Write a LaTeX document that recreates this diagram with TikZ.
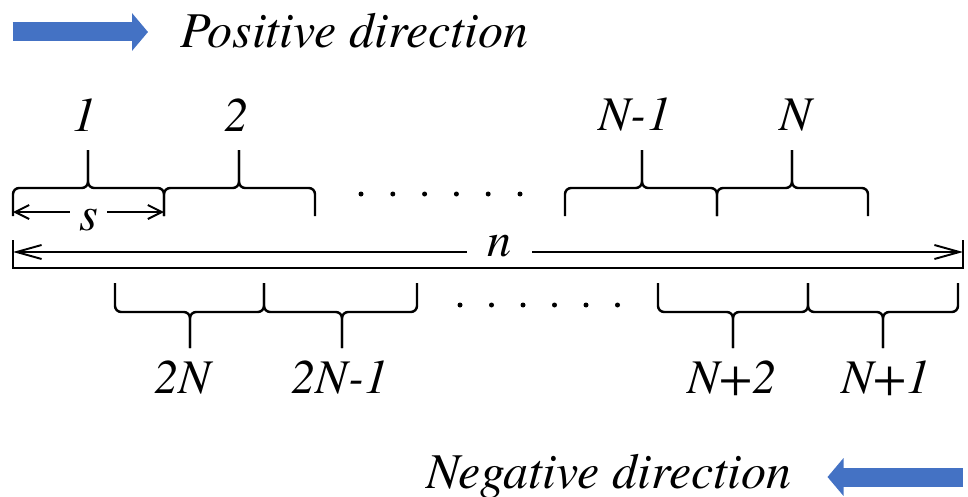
\documentclass[tikz,border=0pt]{standalone}
\usepackage{fontspec}
\setmainfont{texgyretermes}[Extension=.otf, UprightFont=*-regular, ItalicFont=*-italic, BoldFont=*-bold]
\usetikzlibrary{arrows.meta}
\definecolor{azulflecha}{HTML}{4472C4}

\begin{document}
\begin{tikzpicture}[every node/.style={font=\itshape\fontsize{27.5}{30}\selectfont, inner sep=0pt},
    rotulo/.style={font=\itshape\fontsize{28.5}{31}\selectfont, anchor=base},
    llave/.style={line width=1.4pt, rounded corners=3.5pt},
    cota/.style={line width=1.1pt},
    flecha/.style={azulflecha, line width=0.38cm, -{Triangle[length=0.32cm, width=0.74cm]}}]
    \useasboundingbox (0,0) rectangle (19.36,9.92);
    % Flechas de sentido (arriba: positivo, abajo: negativo)
    \coordinate (pos1) at (0.25,9.28);
    \coordinate (pos2) at (2.96,9.28);
    \draw[flecha] (pos1) -- (pos2);
    \node[rotulo] (positiva) at (7.09,8.96) {Positive direction};
    \coordinate (neg1) at (19.26,0.38);
    \coordinate (neg2) at (16.55,0.38);
    \draw[flecha] (neg1) -- (neg2);
    \node[rotulo] (negativa) at (12.18,0.16) {Negative direction};
    % Llaves superiores: extremos en y=5.60, tramo plano en y=6.16, pico en y=6.92
    \foreach \a/\m/\b in {0.26/1.76/3.28, 3.28/4.78/6.30, 11.30/12.84/14.34, 14.34/15.84/17.36} {
        \draw[llave] (\a,5.60) |- (\m,6.16) -- (\m,6.92);
        \draw[llave] (\b,5.60) |- (\m,6.16) -- (\m,6.92);
    }
    \node (sup1) at (1.70,7.62) {1};
    \node (sup2) at (4.74,7.62) {2};
    \node (supNm1) at (12.70,7.62) {N-1};
    \node (supN) at (15.92,7.62) {N};
    % Puntos suspensivos
    \foreach \i in {0,...,5} \fill (7.22+0.636*\i,6.04) circle (0.05);
    \foreach \i in {0,...,5} \fill (9.20+0.63*\i,3.82) circle (0.05);
    % Llaves inferiores: extremos en y=4.26, tramo plano en y=3.68, pico en y=2.96
    \foreach \a/\m/\b in {2.30/3.80/5.28, 5.28/6.84/8.34, 13.16/14.66/16.16, 16.16/17.66/19.16} {
        \draw[llave] (\a,4.26) |- (\m,3.68) -- (\m,2.96);
        \draw[llave] (\b,4.26) |- (\m,3.68) -- (\m,2.96);
    }
    \node (inf2N) at (3.66,2.36) {2N};
    \node (inf2Nm1) at (6.80,2.36) {2N-1};
    \node (infNp2) at (14.64,2.36) {N+2};
    \node (infNp1) at (17.72,2.36) {N+1};
    % Cota s (ancho de un tramo)
    \coordinate (s1) at (0.26,5.68);
    \coordinate (s2) at (3.28,5.68);
    \draw[cota, {Straight Barb[length=0.28cm, width=0.28cm]}-{Straight Barb[length=0.28cm, width=0.28cm]}]
        (s1) -- (s2) node[midway, fill=white, inner xsep=0.18cm, inner ysep=0.1cm, yshift=-0.16cm] (s) {s};
    % Cota n (longitud total) con sus líneas de referencia
    \coordinate (n1) at (0.26,4.88);
    \coordinate (n2) at (19.26,4.88);
    \draw[cota, {Straight Barb[length=0.5cm, width=0.28cm]}-{Straight Barb[length=0.5cm, width=0.28cm]}]
        (n1) -- (n2) node[midway, fill=white, inner xsep=0.4cm, inner ysep=0.05cm, xshift=0.23cm, yshift=0.11cm] (n) {n};
    \coordinate (e1) at (0.26,5.12);
    \coordinate (e2) at (0.26,4.56);
    \coordinate (e3) at (19.26,4.56);
    \coordinate (e4) at (19.26,5.12);
    \draw[cota] (e1) -- (e2) -- (e3) -- (e4);
\end{tikzpicture}
\end{document}
